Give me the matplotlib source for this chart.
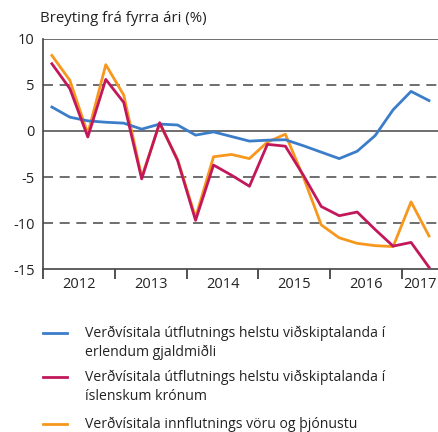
import numpy as np
import matplotlib.pyplot as plt
from matplotlib.lines import Line2D

plt.rcParams['font.family'] = ['Open Sans', 'DejaVu Sans']

# quarterly, 2012Q1 - 2017Q2
years = ['2012', '2013', '2014', '2015', '2016', '2017']
foreign = [2.6, 1.5, 1.1, 0.95, 0.85, 0.2, 0.75, 0.65, -0.45, -0.1, -0.6, -1.1,
           -1.0, -0.95, -1.6, -2.3, -3.0, -2.2, -0.5, 2.3, 4.3, 3.3]
isk = [7.3, 4.6, -0.65, 5.6, 3.1, -5.2, 0.9, -3.2, -9.7, -3.7, -4.8, -6.0,
       -1.45, -1.65, -4.8, -8.2, -9.2, -8.8, -10.7, -12.5, -12.1, -14.8]
imports = [8.2, 5.5, -0.3, 7.2, 3.9, -5.0, 0.8, -3.1, -9.4, -2.8, -2.55, -3.0,
           -1.2, -0.35, -5.0, -10.2, -11.6, -12.2, -12.45, -12.55, -7.7, -11.4]

labels = ['Verðvísitala útflutnings helstu viðskiptalanda í\nerlendum gjaldmiðli',
          'Verðvísitala útflutnings helstu viðskiptalanda í\níslenskum krónum',
          'Verðvísitala innflutnings vöru og þjónustu']
colors = ['#3b7dc8', '#c2185b', '#f7971d']

W, H = 438, 432
fig = plt.figure(figsize=(W / 100, H / 100), dpi=100)
ax = fig.add_axes([0.098, 0.377, 0.902, 0.533])

x = np.arange(len(foreign)) + 0.5
for yy in [0, 10]:
    ax.axhline(yy, color='#555555', lw=1.2, zorder=1)
for yy in [5, -5, -10]:
    ax.axhline(yy, color='#555555', lw=1.2, dashes=(6, 4), zorder=1)

lines = []
for data, c in zip([foreign, isk, imports], colors):
    lines.append(ax.plot(x, data, color=c, lw=2.0, zorder=3)[0])
# imports drawn under the krona series
lines[2].set_zorder(2)

ax.set_xlim(0, 22)
ax.set_ylim(-15, 10)
ax.set_yticks([10, 5, 0, -5, -10, -15])
ax.set_yticklabels(['10', '5', '0', '-5', '-10', '-15'])
ax.set_xticks(np.arange(0, 24, 4))
ax.set_xticklabels([])
ax.set_xticks(np.arange(2, 22, 4).tolist() + [21], minor=True)
ax.set_xticklabels(years, minor=True)
ax.tick_params(axis='x', which='major', length=7, width=1.2, color='#333333', direction='out')
ax.tick_params(axis='x', which='minor', length=0, labelsize=10.5, pad=6, labelcolor='#222222')
ax.tick_params(axis='y', length=0, labelsize=10.5, pad=6, labelcolor='#222222')

for s in ['top', 'right']:
    ax.spines[s].set_visible(False)
for s in ['left', 'bottom']:
    ax.spines[s].set_color('#444444')
    ax.spines[s].set_linewidth(1.2)

fig.text(40 / W, 1 - 18 / H, 'Breyting frá fyrra ári (%)', fontsize=10.8,
         color='#222222', va='center')

# legend, drawn by hand so the key sits on the first text line
entry_top = [333, 377, 424]
for lab, c, py in zip(labels, colors, entry_top):
    fig.add_artist(Line2D([43 / W, 67 / W], [1 - py / H] * 2, color=c, lw=2.0))
    for j, part in enumerate(lab.split('\n')):
        fig.text(85 / W, 1 - (py + 19 * j) / H, part, fontsize=10.1,
                 color='#222222', va='center')

fig.savefig('out.png', dpi=100)
